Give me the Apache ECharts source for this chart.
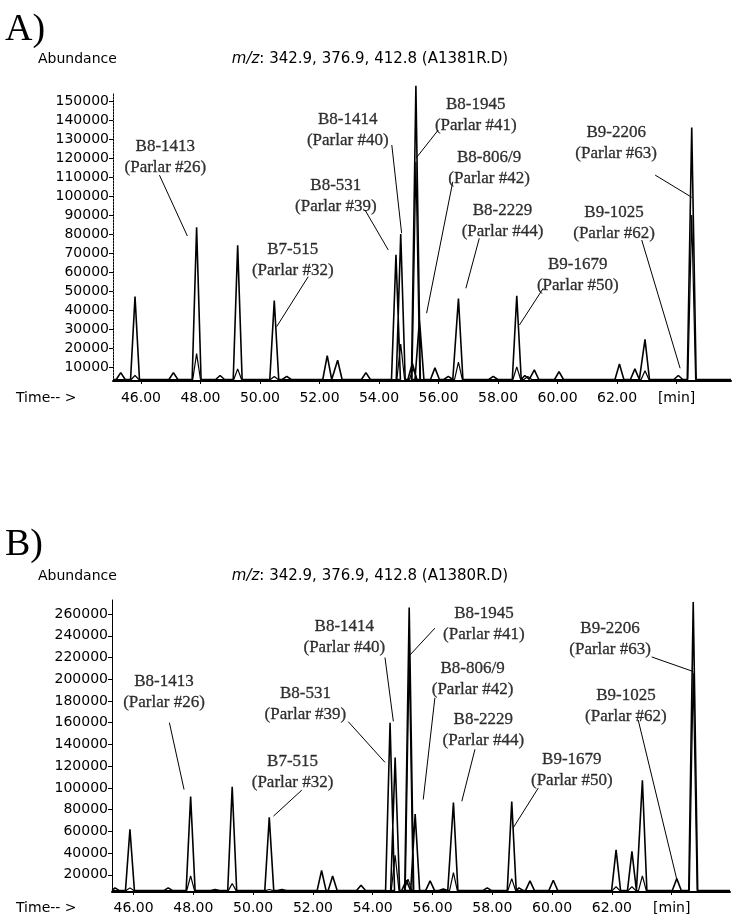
<!DOCTYPE html>
<html>
<head>
<meta charset="utf-8">
<script src="https://cdn.jsdelivr.net/npm/echarts@6/dist/echarts.min.js"></script>
<style>
html, body { margin: 0; padding: 0; background: #fff; }
#chart { width: 733px; height: 919px; }
</style>
</head>
<body>
<div id="chart"></div>
<script>
// ---- panel A : A1381R.D ----
var peakTimeA  = [45.32, 45.8, 47.09, 47.87, 48.66, 49.25, 50.48, 50.9, 52.26, 52.61, 53.56, 54.57, 54.73, 55.12, 55.24, 55.36, 55.88, 56.33, 56.67, 57.84, 58.63, 58.9, 59.22, 60.05, 62.08, 62.6, 62.94, 64.06, 64.51];
var peakAbundA = [7000, 47000, 7000, 83500, 5500, 74000, 45000, 5000, 16000, 13500, 7000, 69000, 80000, 12000, 158000, 35000, 9500, 5000, 46000, 5000, 47500, 5500, 8500, 7500, 11500, 9000, 24500, 5500, 136000];
var minorTimeA  = [45.8, 47.87, 49.25, 50.48, 54.73, 55.15, 55.24, 56.67, 58.63, 59.0, 62.94, 64.51];
var minorAbundA = [5500, 17000, 9000, 5000, 22000, 9000, 118000, 12500, 10000, 5000, 8000, 90000];

// ---- panel B : A1380R.D ----
var peakTimeB  = [45.38, 45.88, 47.16, 47.91, 48.73, 49.3, 50.54, 50.96, 52.29, 52.66, 53.61, 54.58, 54.75, 55.12, 55.22, 55.42, 55.92, 56.36, 56.7, 57.83, 58.65, 58.89, 59.26, 60.04, 62.14, 62.67, 63.02, 64.17, 64.72];
var peakAbundB = [8000, 62000, 8000, 92000, 6500, 101000, 73000, 6500, 24000, 19000, 10500, 160000, 128000, 15000, 266000, 76000, 14500, 7000, 86500, 8000, 87500, 8000, 14500, 15000, 43000, 41500, 107000, 16500, 271000];
var minorTimeB  = [45.88, 47.91, 49.3, 50.54, 54.75, 55.18, 55.22, 56.7, 58.65, 62.14, 62.67, 63.02, 64.72];
var minorAbundB = [8000, 19000, 12000, 6500, 38000, 16000, 220000, 22000, 16500, 9000, 9000, 19000, 206000];

// tick labels
var timeTicks = [46, 48, 50, 52, 54, 56, 58, 60, 62, 64];
var abundTicksA = [10000, 20000, 30000, 40000, 50000, 60000, 70000, 80000, 90000, 100000, 110000, 120000, 130000, 140000, 150000];
var abundTicksB = [20000, 40000, 60000, 80000, 100000, 120000, 140000, 160000, 180000, 200000, 220000, 240000, 260000];

// peak annotations (same congeners in both runs)
var congener = ['B8-1413', 'B7-515', 'B8-531', 'B8-1414', 'B8-1945', 'B8-806/9', 'B8-2229', 'B9-1679', 'B9-1025', 'B9-2206'];
var parlarNo = ['#26', '#32', '#39', '#40', '#41', '#42', '#44', '#50', '#62', '#63'];

// where the annotation text sits and where its leader goes (data coordinates)
var labelAtA = [[46.82, 120500], [51.10, 66200], [52.55, 100000], [52.95, 134700], [57.25, 142600], [57.70, 114600], [58.15, 86800], [60.68, 58400], [61.90, 85600], [61.97, 127700]];
var leaderA = [
  [[46.62, 111000], [47.56, 78900]],
  [[51.62, 57500], [50.56, 31200]],
  [[53.53, 92600], [54.31, 71600]],
  [[54.43, 126800], [54.76, 80400]],
  [[55.99, 134700], [55.24, 119800]],
  [[56.48, 107500], [55.60, 38300]],
  [[57.37, 77700], [56.92, 51400]],
  [[59.52, 51400], [58.72, 32100]],
  [[62.83, 76800], [64.12, 9300]],
  [[63.28, 111000], [64.51, 99300]]
];
var labelAtB = [[47.02, 188000], [51.32, 115000], [51.75, 177000], [53.05, 239000], [57.72, 251000], [57.34, 200000], [57.70, 153000], [60.66, 116000], [62.47, 175000], [61.94, 237000]];
var leaderB = [
  [[47.20, 160000], [47.69, 98500]],
  [[51.63, 98000], [50.68, 74000]],
  [[53.18, 161000], [54.41, 123500]],
  [[54.41, 220000], [54.69, 161200]],
  [[56.08, 247000], [55.22, 221500]],
  [[56.08, 183000], [55.69, 89300]],
  [[57.42, 135500], [56.98, 87700]],
  [[59.54, 100000], [58.70, 63300]],
  [[62.88, 162500], [64.17, 15900]],
  [[63.33, 220500], [64.72, 207100]]
];

var sans = '"DejaVu Sans", sans-serif';
var serif = '"Liberation Serif", "DejaVu Serif", serif';

// a peak is drawn as base -> apex -> base
function trace(times, abund, base, halfWidth, xmin, xmax) {
  var d = [[xmin, base]];
  for (var i = 0; i < times.length; i++) {
    d.push([times[i] - halfWidth, base]);
    d.push([times[i], abund[i]]);
    d.push([times[i] + halfWidth, base]);
  }
  d.push([xmax, base]);
  return d;
}

function xAxisFor(idx, min, max, margin) {
  return {
    type: 'value', gridIndex: idx, min: min, max: max,
    axisLine: { lineStyle: { color: '#000', width: 2 } },
    axisTick: { show: true, length: 3, customValues: timeTicks, lineStyle: { color: '#000' } },
    splitLine: { show: false },
    axisLabel: {
      customValues: timeTicks, margin: margin, color: '#000', fontFamily: sans, fontSize: 14,
      formatter: function (v) { return v === 64 ? '[min]' : v.toFixed(2); }
    }
  };
}
function yAxisFor(idx, min, max, ticks, dashed) {
  return {
    type: 'value', gridIndex: idx, min: min, max: max,
    axisLine: { show: true, lineStyle: { color: '#000', width: 1, type: dashed ? [2, 1] : 'solid' } },
    axisTick: { show: true, length: 4, customValues: ticks, lineStyle: { color: '#000' } },
    splitLine: { show: false },
    axisLabel: { customValues: ticks, margin: 4, color: '#000', fontFamily: sans, fontSize: 14,
      formatter: function (v) { return String(v); } }
  };
}

function labelData(pos) {
  return pos.map(function (p, i) {
    return { value: p, name: congener[i] + '\n(Parlar ' + parlarNo[i] + ')' };
  });
}
function leaderData(lines) {
  return lines.map(function (l) { return { coords: l }; });
}

var annoLabel = { show: true, position: 'inside', formatter: '{b}', color: '#000', fontFamily: serif,
  fontSize: 17, lineHeight: 21, textBorderColor: '#000', textBorderWidth: 0.3 };

var xMinA = 45.06, xMaxA = 65.83, xMinB = 45.28, xMaxB = 65.95;

var chart = echarts.init(document.getElementById('chart'));
chart.setOption({
  backgroundColor: '#fff',
  animation: false,
  grid: [
    { left: 113, top: 93, width: 618, height: 288 },
    { left: 112, top: 600, width: 618, height: 292 }
  ],
  xAxis: [xAxisFor(0, xMinA, xMaxA, 10), xAxisFor(1, xMinB, xMaxB, 9)],
  yAxis: [yAxisFor(0, 2600, 154200, abundTicksA, true), yAxisFor(1, 4200, 272900, abundTicksB, false)],
  series: [
    { type: 'line', xAxisIndex: 0, yAxisIndex: 0, symbol: 'none', clip: false,
      lineStyle: { color: '#000', width: 1.6 }, data: trace(peakTimeA, peakAbundA, 3400, 0.15, xMinA, xMaxA) },
    { type: 'line', xAxisIndex: 0, yAxisIndex: 0, symbol: 'none', clip: false,
      lineStyle: { color: '#000', width: 1.2 }, data: trace(minorTimeA, minorAbundA, 3400, 0.13, xMinA, xMaxA) },
    { type: 'line', xAxisIndex: 1, yAxisIndex: 1, symbol: 'none', clip: false,
      lineStyle: { color: '#000', width: 1.6 }, data: trace(peakTimeB, peakAbundB, 5500, 0.15, xMinB, xMaxB) },
    { type: 'line', xAxisIndex: 1, yAxisIndex: 1, symbol: 'none', clip: false,
      lineStyle: { color: '#000', width: 1.2 }, data: trace(minorTimeB, minorAbundB, 5500, 0.13, xMinB, xMaxB) },
    { type: 'lines', coordinateSystem: 'cartesian2d', xAxisIndex: 0, yAxisIndex: 0, silent: true,
      lineStyle: { color: '#000', width: 1, opacity: 1 }, data: leaderData(leaderA) },
    { type: 'lines', coordinateSystem: 'cartesian2d', xAxisIndex: 1, yAxisIndex: 1, silent: true,
      lineStyle: { color: '#000', width: 1, opacity: 1 }, data: leaderData(leaderB) },
    { type: 'scatter', xAxisIndex: 0, yAxisIndex: 0, symbolSize: 0, silent: true, data: labelData(labelAtA), label: annoLabel },
    { type: 'scatter', xAxisIndex: 1, yAxisIndex: 1, symbolSize: 0, silent: true, data: labelData(labelAtB), label: annoLabel }
  ],
  graphic: [
    { type: 'text', left: 5, top: 11, style: { text: 'A)', fontFamily: serif, fontSize: 38, fill: '#000' } },
    { type: 'text', left: 5, top: 526, style: { text: 'B)', fontFamily: serif, fontSize: 38, fill: '#000' } },
    { type: 'text', x: 38, y: 59, style: { text: 'Abundance', fontFamily: sans, fontSize: 14, fill: '#000', verticalAlign: 'middle' } },
    { type: 'text', x: 38, y: 576, style: { text: 'Abundance', fontFamily: sans, fontSize: 14, fill: '#000', verticalAlign: 'middle' } },
    { type: 'text', x: 370, y: 59, style: { text: '{i|m/z}: 342.9, 376.9, 412.8 (A1381R.D)', fontFamily: sans, fontSize: 15, fill: '#000', align: 'center', verticalAlign: 'middle',
      rich: { i: { fontStyle: 'italic', fontFamily: sans, fontSize: 15 } } } },
    { type: 'text', x: 370, y: 576, style: { text: '{i|m/z}: 342.9, 376.9, 412.8 (A1380R.D)', fontFamily: sans, fontSize: 15, fill: '#000', align: 'center', verticalAlign: 'middle',
      rich: { i: { fontStyle: 'italic', fontFamily: sans, fontSize: 15 } } } },
    { type: 'text', x: 16, y: 398, style: { text: 'Time-- >', fontFamily: sans, fontSize: 14, fill: '#000', verticalAlign: 'middle' } },
    { type: 'text', x: 16, y: 908, style: { text: 'Time-- >', fontFamily: sans, fontSize: 14, fill: '#000', verticalAlign: 'middle' } }
  ]
});
</script>
</body>
</html>
